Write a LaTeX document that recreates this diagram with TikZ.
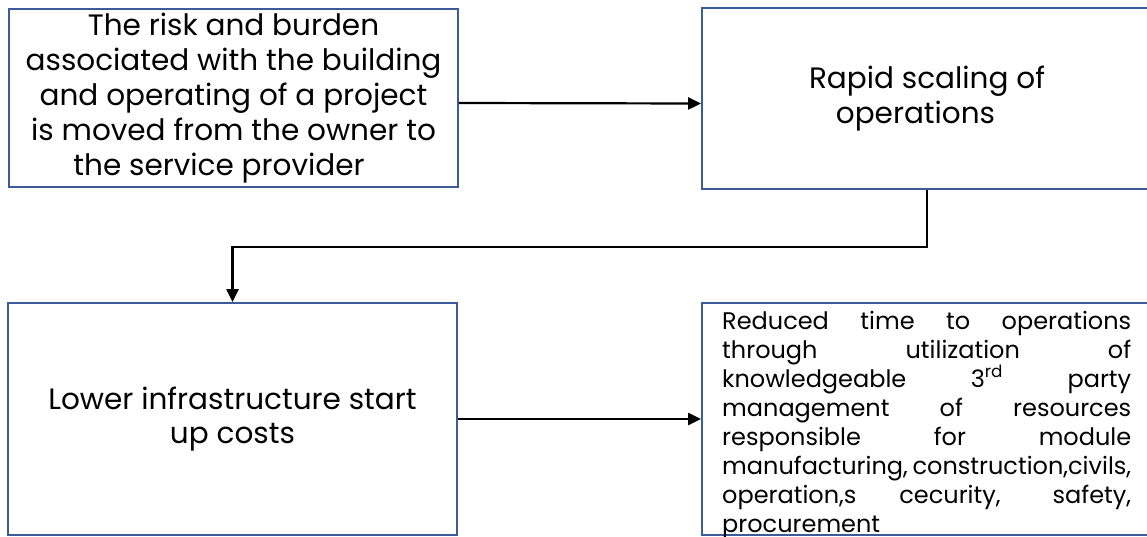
\documentclass[tikz,border=0pt]{standalone}
\usepackage{fontspec}
\setmainfont{Poppins}
\usetikzlibrary{arrows.meta}
\definecolor{boxblue}{HTML}{3B5C99}
\tikzset{
  box/.style={draw=boxblue, line width=1.8pt, fill=white, rectangle, inner sep=0pt, align=center},
  conn/.style={draw=black, line width=2.2pt, -{Triangle[length=13pt,width=12pt]}},
}
\begin{document}
\begin{tikzpicture}[x=1pt,y=-1pt]
\useasboundingbox (0,0) rectangle (1147,536);
\clip (0,0) rectangle (1147,536);
\fill[white] (0,0) rectangle (1147,536);
\node[box, minimum width=449pt, minimum height=178pt, font=\fontsize{29.5}{35}\selectfont] (a) at (233.5,98)
  {The risk and burden\\associated with the building\\and operating of a project\\is moved from the owner to\\the service provider\rule{29pt}{0pt}};
\node[box, minimum width=450pt, minimum height=181pt, font=\fontsize{29.5}{35}\selectfont] (b) at (927,98.5)
  {Rapid scaling of\\operations\rule{23pt}{0pt}};
\node[box, minimum width=449pt, minimum height=232pt, font=\fontsize{29.5}{34}\selectfont] (c) at (232.5,419)
  {Lower infrastructure start\\up costs};
\node[box, minimum width=450pt, minimum height=232pt] (d) at (927,419) {};
\node[anchor=base west, inner sep=0pt, font=\fontsize{24}{29}\selectfont] (dt) at (722,329)
  {\parbox[t]{409pt}{%
  \makebox[409pt][s]{Reduced time to operations}\\
  \makebox[409pt][s]{through utilization of}\\
  \makebox[409pt][s]{knowledgeable 3\textsuperscript{rd} party}\\
  \makebox[409pt][s]{management of resources}\\
  \makebox[409pt][s]{responsible for module}\\
  \makebox[409pt][s]{manufacturing, construction,civils,}\\
  \makebox[409pt][s]{operation,s cecurity, safety,}\\
  procurement}};
\draw[conn] ([yshift=-5pt]a.east) -- ([yshift=-5pt]b.west);
\draw[conn] (b.south) -- ++(0,57) -| (c.north);
\draw[conn] (c.east) -- (d.west);
\end{tikzpicture}
\end{document}
